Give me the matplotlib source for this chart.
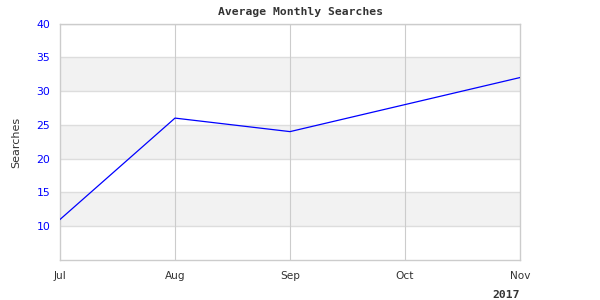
import matplotlib
matplotlib.use('Agg')
import matplotlib.pyplot as plt

# dados do gráfico
meses = ['Jul', 'Aug', 'Sep', 'Oct', 'Nov']
buscas = [11, 26, 24, 28, 32]
y_ticks = [10, 15, 20, 25, 30, 35, 40]
faixas_cinza = [(10, 15), (20, 25), (30, 35)]

fig = plt.figure(figsize=(6, 3), dpi=100)
ax = fig.add_axes([60 / 600, 40 / 300, 460 / 600, 236.5 / 300])

x = list(range(len(meses)))

for a, b in faixas_cinza:
    ax.axhspan(a, b, color='#f2f2f2', zorder=0, lw=0)

for yv in y_ticks:
    ax.axhline(yv, color='#dddddd', lw=1, zorder=1)
for xv in x[1:-1]:
    ax.axvline(xv, color='#cccccc', lw=0.8, zorder=1)

ax.plot(x, buscas, color='blue', lw=0.9, zorder=3)

ax.set_xlim(0, len(meses) - 1)
ax.set_ylim(5, 40)
ax.set_xticks(x)
ax.set_xticklabels(meses, color='#333333', fontsize=7.6)
ax.set_yticks(y_ticks)
ax.set_yticklabels([str(v) for v in y_ticks], color='blue', fontsize=7.8)
ax.tick_params(length=0, pad=8)
ax.tick_params(axis='y', pad=7)

for s in ax.spines.values():
    s.set_color('#cccccc')
    s.set_linewidth(1)

fig.text(300 / 600, 1 - 12 / 300, 'Average Monthly Searches', ha='center', va='center',
         family='DejaVu Sans Mono', fontweight='bold', fontsize=8.2, color='#333333')
fig.text(16 / 600, 1 - 142 / 300, 'Searches', ha='center', va='center', rotation=90,
         fontsize=8, color='#333333')
fig.text(520 / 600, 1 - 295 / 300, '2017', ha='right', va='center',
         family='DejaVu Sans Mono', fontweight='bold', fontsize=8.2, color='#333333')

plt.savefig('out.png', dpi=100)
